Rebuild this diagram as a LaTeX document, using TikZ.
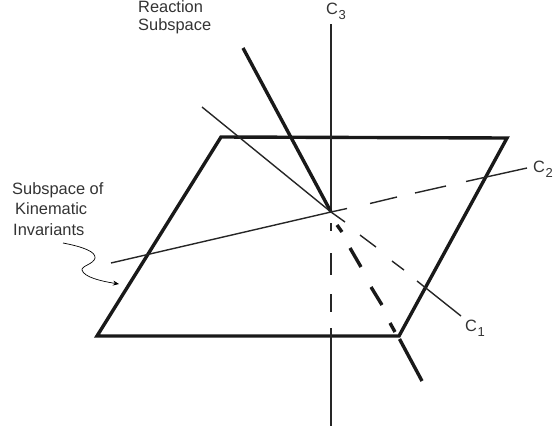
\documentclass[tikz,border=0pt]{standalone}
\usepackage{fontspec}
\setmainfont{Liberation Sans}
\usetikzlibrary{arrows.meta}
\tikzset{
  thinax/.style={line width=1.4pt,black!85},
  thickax/.style={line width=3.4pt,black!90,line cap=butt},
  lab/.style={inner sep=0pt,anchor=base west,font=\fontsize{16.4}{18}\selectfont,text=black!80},
}
\newcommand{\subnum}[1]{\hspace{0.6pt}\raisebox{-5pt}{\fontsize{13}{14}\selectfont #1}}
\begin{document}
\begin{tikzpicture}[x=1pt,y=-1pt]
\useasboundingbox (0,0) rectangle (553,434);
\coordinate (O) at (331,212);
\coordinate (A) at (221,137);
\coordinate (B) at (507,138);
\coordinate (C) at (399,336);
\coordinate (D) at (97,336);
% plane
\draw[thickax,line join=miter] (A) -- (B) -- (C) -- (D) -- cycle;
% C3
\coordinate (c3t) at (331,24);
\coordinate (c3b) at (331,426);
\draw[thinax] (c3t) -- (O);
\draw[thinax] (331,223) -- (331,231);
\draw[thinax] (331,253) -- (331,275);
\draw[thinax] (331,294) -- (331,312);
\draw[thinax] (331,328) -- (c3b);
% reaction
\coordinate (rt) at (243,48);
\coordinate (rb) at (422,381);
\draw[thickax] (rt) -- (O);
\draw[thickax] (337,225) -- (342,232);
\draw[thickax] (350,248) -- (361,267);
\draw[thickax] (371,287) -- (382,305);
\draw[thickax] (390,323) -- (395,332);
\draw[thickax] (399.5,339) -- (rb);
% C1
\coordinate (c1a) at (202,107);
\coordinate (c1b) at (461,316);
\draw[thinax] (c1a) -- (O) -- (345,222);
\draw[thinax] (360,235) -- (376,247);
\draw[thinax] (392,261) -- (404,270);
\draw[thinax] (417,281) -- (c1b);
% C2
\coordinate (c2a) at (111,263);
\coordinate (c2b) at (527,168);
\draw[thinax] (c2a) -- (O) -- (347,208.5);
\draw[thinax] (370,203.5) -- (397,197);
\draw[thinax] (415,193) -- (446,186);
\draw[thinax] (466,181.5) -- (c2b);
% squiggle
\coordinate (s0) at (63,243);
\coordinate (s1) at (119,284);
\draw[line width=0.7pt,-{Stealth[length=6pt,width=5pt]}] (s0) .. controls (84,247) and (96,252) .. (95,258)
  .. controls (94,264) and (81,266) .. (82,270) .. controls (84,277) and (100,281) .. (s1);
% labels
\node[lab] (c3) at (326,14) {C\subnum{3}};
\node[lab] (c2) at (533,172) {C\subnum{2}};
\node[lab] (c1) at (465,331) {C\subnum{1}};
\node[lab] (r1) at (138,12) {Reaction};
\node[lab] (r2) at (138,30) {Subspace};
\node[lab] (k1) at (12,194) {Subspace of};
\node[lab] (k2) at (15,214) {Kinematic};
\node[lab] (k3) at (13,235) {Invariants};
\end{tikzpicture}
\end{document}
